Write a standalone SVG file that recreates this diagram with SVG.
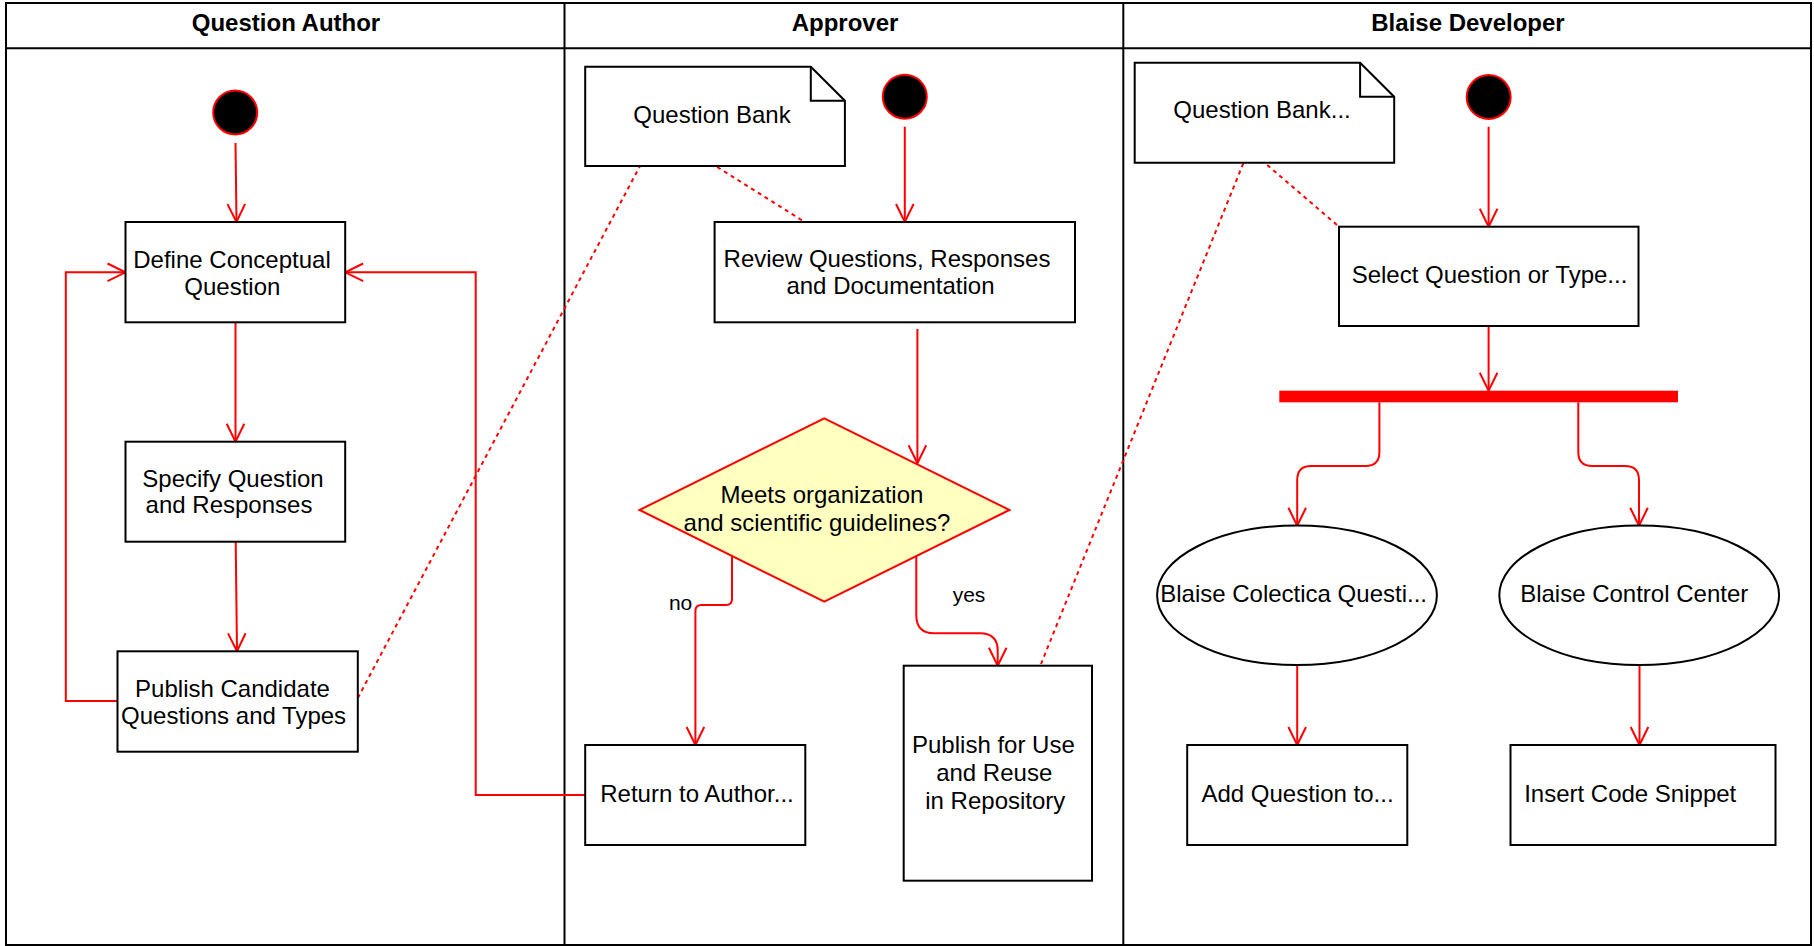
<svg xmlns="http://www.w3.org/2000/svg" width="1814" height="946" viewBox="0 0 1814 946">
<style>
text{font-family:"Liberation Sans",Arial,Helvetica,sans-serif;font-size:24px;fill:#000;text-anchor:middle}
.title{font-weight:bold}
.lbl{font-size:21px}
.box{fill:#fff;stroke:#000;stroke-width:2}
.lane{fill:none;stroke:#000;stroke-width:2}
.start{fill:#000;stroke:#ff0000;stroke-width:2}
.flow{fill:none;stroke:#ff0000;stroke-width:2;marker-end:url(#arr)}
.flowplain{fill:none;stroke:#ff0000;stroke-width:2}
.dot{fill:none;stroke:#ff0000;stroke-width:2;stroke-dasharray:4 4}
.dec{fill:#ffffc0;stroke:#ff0000;stroke-width:2}
</style>
<defs>
<marker id="arr" markerUnits="userSpaceOnUse" viewBox="0 0 22 22" refX="20" refY="11" markerWidth="22" markerHeight="22" orient="auto">
<path d="M2,2.2 L20,11 L2,19.8" fill="none" stroke="#ff0000" stroke-width="2"/>
</marker>
</defs>
<rect x="0" y="0" width="1814" height="946" fill="#fff"/>
<g id="lanes">
<rect class="lane" x="6" y="3" width="1805" height="942"/>
<line class="lane" x1="6" y1="48.3" x2="1811" y2="48.3"/>
<line class="lane" x1="564.5" y1="3" x2="564.5" y2="945"/>
<line class="lane" x1="1123.3" y1="3" x2="1123.3" y2="945"/>
<text class="title" x="286" y="31">Question Author</text>
<text class="title" x="845" y="31">Approver</text>
<text class="title" x="1468" y="31">Blaise Developer</text>
</g>
<g id="connectors">
<path class="flow" d="M235.5,143 L236.5,222"/>
<path class="flow" d="M235.5,322.3 L235.5,441.7"/>
<path class="flow" d="M235.7,541.7 L237,651.3"/>
<path class="flow" d="M117.5,701 L65.8,701 L65.8,272.3 L125.5,272.3"/>
<path class="flow" d="M585.2,795 L475.7,795 L475.7,272.3 L345.2,272.3"/>
<path class="dot" d="M357.8,698 L640,166"/>
<path class="dot" d="M717.2,167 L804.2,221.7"/>
<path class="flow" d="M904.8,126.7 L904.8,222"/>
<path class="flow" d="M917.4,329 L917.4,463.3"/>
<path class="flow" d="M732,556 L732,599 Q732,605 726,605 L701.4,605 Q695.4,605 695.4,611 L695.4,745"/>
<path class="flow" d="M916.3,556 L916.3,615 Q916.3,633.3 934,633.3 L980,633.3 Q997.7,633.3 997.7,651 L997.7,665.7"/>
<path class="dot" d="M1041,664 L1243.4,163"/>
<path class="dot" d="M1267.2,165 L1339,226.7"/>
<path class="flow" d="M1488.6,126.7 L1488.6,226.7"/>
<path class="flow" d="M1488.6,326 L1488.6,390.7"/>
<path class="flow" d="M1379.4,402.3 L1379.4,452 Q1379.4,466 1365.4,466 L1311.2,466 Q1297.2,466 1297.2,480 L1297.2,525.7"/>
<path class="flow" d="M1578.3,402.3 L1578.3,452 Q1578.3,466 1592.3,466 L1625,466 Q1639,466 1639,480 L1639,525.7"/>
<path class="flow" d="M1297.2,665 L1297.2,745"/>
<path class="flow" d="M1639.5,665 L1639.5,745"/>
<text class="lbl" x="680.6" y="610">no</text>
<text class="lbl" x="969" y="601.7">yes</text>
</g>
<g id="qa-start"><circle class="start" cx="235.2" cy="112.5" r="22"/></g>
<g id="define">
<rect class="box" x="125.5" y="222" width="219.7" height="100.3"/>
<text x="232" y="267.7">Define Conceptual</text>
<text x="232.3" y="295.3">Question</text>
</g>
<g id="specify">
<rect class="box" x="125.5" y="441.7" width="219.7" height="100"/>
<text x="233" y="486.7">Specify Question</text>
<text x="229" y="513.3">and Responses</text>
</g>
<g id="publish-candidate">
<rect class="box" x="117.5" y="651.3" width="240.3" height="100.4"/>
<text x="232.5" y="696.7">Publish Candidate</text>
<text x="233.6" y="724.3">Questions and Types</text>
</g>
<g id="qbank-approver">
<path class="box" d="M585.2,66.7 L810.8,66.7 L844.9,100.7 L844.9,166 L585.2,166 Z"/>
<path d="M810.8,66.7 L810.8,100.7 L844.9,100.7" fill="none" stroke="#000" stroke-width="2"/>
<text x="712" y="123.3">Question Bank</text>
</g>
<g id="ap-start"><circle class="start" cx="904.8" cy="96.7" r="22"/></g>
<g id="review">
<rect class="box" x="714.6" y="222" width="360.4" height="100.3"/>
<text x="887" y="266.7">Review Questions, Responses</text>
<text x="890.5" y="294.3">and Documentation</text>
</g>
<g id="decision">
<path class="dec" d="M824.3,418.3 L1009.5,510 L824.3,601.7 L639.5,510 Z"/>
<text x="822" y="503.3">Meets organization</text>
<text x="817" y="531">and scientific guidelines?</text>
</g>
<g id="return">
<rect class="box" x="585.2" y="745" width="220.1" height="100"/>
<text x="697" y="801.7">Return to Author...</text>
</g>
<g id="publish-use">
<rect class="box" x="903.7" y="665.7" width="188.3" height="215"/>
<text x="993.4" y="753.3">Publish for Use</text>
<text x="994.2" y="781">and Reuse</text>
<text x="995.3" y="809.3">in Repository</text>
</g>
<g id="qbank-dev">
<path class="box" d="M1134.7,62.7 L1360.1,62.7 L1394.2,96.7 L1394.2,162.7 L1134.7,162.7 Z"/>
<path d="M1360.1,62.7 L1360.1,96.7 L1394.2,96.7" fill="none" stroke="#000" stroke-width="2"/>
<text x="1262" y="118.3">Question Bank...</text>
</g>
<g id="bd-start"><circle class="start" cx="1488.7" cy="97" r="22"/></g>
<g id="select">
<rect class="box" x="1339" y="226.7" width="299.5" height="99.3"/>
<text x="1489.5" y="282.7">Select Question or Type...</text>
</g>
<g id="fork"><rect x="1279.3" y="390.7" width="398.7" height="11.6" fill="#ff0000"/></g>
<g id="colectica">
<ellipse class="box" cx="1297" cy="595.3" rx="139.9" ry="69.7"/>
<text x="1293.6" y="601.7">Blaise Colectica Questi...</text>
</g>
<g id="control-center">
<ellipse class="box" cx="1639.2" cy="595.3" rx="139.9" ry="69.7"/>
<text x="1634.2" y="601.7">Blaise Control Center</text>
</g>
<g id="add-question">
<rect class="box" x="1187.2" y="745" width="220.1" height="100"/>
<text x="1297.5" y="801.7">Add Question to...</text>
</g>
<g id="insert-snippet">
<rect class="box" x="1510.5" y="745" width="265" height="100"/>
<text x="1630.2" y="801.7">Insert Code Snippet</text>
</g>
</svg>
